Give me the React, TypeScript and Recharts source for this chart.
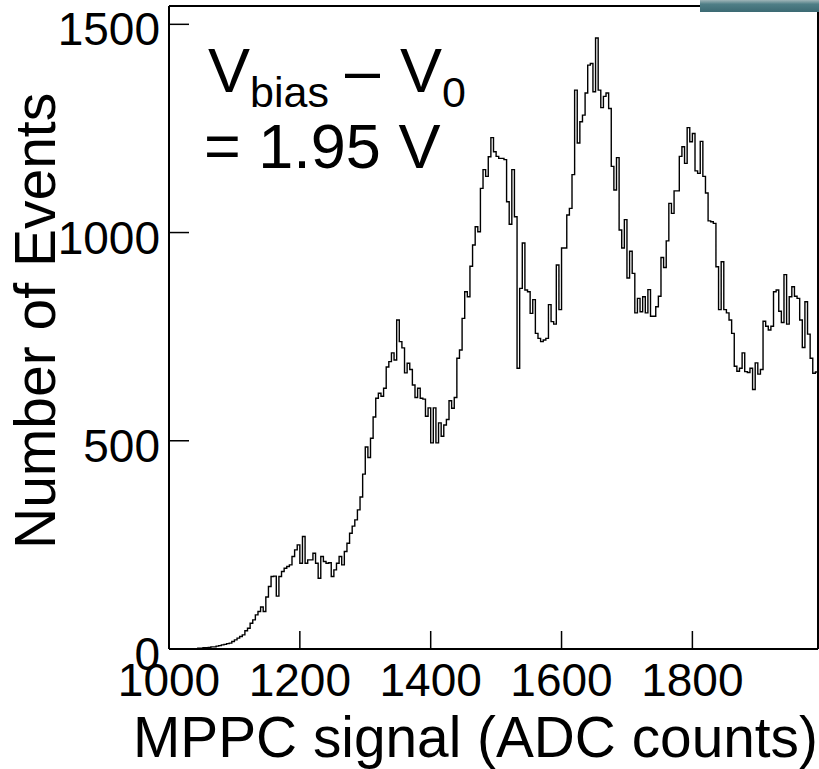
import { LineChart, Line, XAxis, YAxis, ReferenceLine } from "recharts";

const FONT = "'Liberation Sans', Arial, Helvetica, sans-serif";

// histogram binning (ADC counts)
const BIN_START = 1000;
const BIN_WIDTH = 4;
const X_MAX = 1992;
const Y_MAX = 1544;

const X_TICKS = [1000, 1200, 1400, 1600, 1800];
const Y_TICKS = [0, 500, 1000, 1500];

// events per 4-ADC bin
const COUNTS = [
  0, 0, 0, 0, 0, 0, 0, 0, 1, 1,
  1, 2, 2, 3, 3, 4, 5, 5, 7, 8,
  10, 11, 13, 14, 18, 22, 26, 30, 34, 44,
  50, 62, 70, 82, 90, 101, 90, 125, 150, 174,
  175, 127, 174, 186, 194, 198, 202, 222, 238, 250,
  206, 270, 206, 214, 214, 230, 206, 170, 222, 210,
  206, 207, 174, 190, 206, 222, 202, 234, 254, 278,
  295, 310, 334, 365, 420, 485, 460, 506, 557, 602,
  614, 607, 626, 677, 690, 711, 694, 790, 738, 723,
  663, 686, 671, 634, 604, 626, 602, 600, 559, 579,
  495, 579, 495, 543, 511, 538, 551, 596, 578, 604,
  698, 718, 794, 858, 846, 919, 970, 1014, 1002, 1106,
  1151, 1135, 1182, 1228, 1194, 1183, 1178, 1178, 1175, 1074,
  1020, 1151, 1038, 674, 866, 975, 862, 858, 806, 839,
  758, 746, 738, 742, 746, 827, 786, 780, 922, 815,
  963, 963, 1042, 1058, 1139, 1342, 1215, 1266, 1282, 1335,
  1402, 1406, 1338, 1467, 1342, 1300, 1327, 1335, 1298, 1159,
  1102, 1180, 1006, 963, 1031, 891, 955, 902, 807, 842,
  810, 846, 807, 863, 799, 799, 822, 847, 940, 916,
  980, 1070, 1046, 1100, 1100, 1183, 1206, 1166, 1252, 1218,
  1238, 1148, 1142, 1219, 1135, 1095, 1028, 1026, 1022, 918,
  815, 930, 815, 807, 790, 758, 679, 667, 674, 711,
  666, 664, 674, 623, 687, 660, 671, 787, 775, 766,
  775, 858, 862, 811, 784, 899, 780, 846, 870, 847,
  842, 790, 724, 834, 756, 698, 662, 665,
];

const data = COUNTS.map((n, i) => ({ adc: BIN_START + i * BIN_WIDTH, n }));
data.push({ adc: X_MAX, n: COUNTS[COUNTS.length - 1] });

// ROOT style: ticks point into the frame
function XTick({ x, y, payload }: any) {
  return (
    <g>
      <line x1={x} x2={x} y1={y} y2={y - 18} stroke="#000" strokeWidth={1.5} />
      <text x={x} y={y + 47} textAnchor="middle" fontSize={46} fontFamily={FONT} fill="#000">
        {payload.value}
      </text>
    </g>
  );
}

function YTick({ x, y, payload }: any) {
  return (
    <g>
      <line x1={x} x2={x + 20} y1={y} y2={y} stroke="#000" strokeWidth={1.5} />
      <text x={x - 9} y={y + 21} textAnchor="end" fontSize={46} fontFamily={FONT} fill="#000">
        {payload.value}
      </text>
    </g>
  );
}

export default function App() {
  return (
    <div style={{ position: "absolute", left: 0, top: 0, width: 819, height: 769, background: "#fff" }}>
      <LineChart width={819} height={769} data={data} margin={{ top: 6, right: 1, left: 0, bottom: 0 }}>
        <XAxis
          type="number"
          dataKey="adc"
          domain={[BIN_START, X_MAX]}
          ticks={X_TICKS}
          allowDataOverflow
          height={120}
          tickSize={0}
          tickMargin={0}
          tickLine={false}
          axisLine={{ stroke: "#000", strokeWidth: 2 }}
          tick={<XTick />}
          interval={0}
        />
        <YAxis
          type="number"
          domain={[0, Y_MAX]}
          ticks={Y_TICKS}
          allowDataOverflow
          width={169}
          tickSize={0}
          tickMargin={0}
          tickLine={false}
          axisLine={{ stroke: "#000", strokeWidth: 2 }}
          tick={<YTick />}
          interval={0}
        />
        <ReferenceLine y={Y_MAX} stroke="#000" strokeWidth={2} ifOverflow="visible" />
        <ReferenceLine x={X_MAX} stroke="#000" strokeWidth={2} ifOverflow="visible" />
        <Line
          isAnimationActive={false}
          type="stepAfter"
          dataKey="n"
          stroke="#000"
          strokeWidth={1.4}
          dot={false}
          activeDot={false}
        />
      </LineChart>

      <svg
        width={819}
        height={769}
        style={{ position: "absolute", left: 0, top: 0, pointerEvents: "none" }}
        fontFamily={FONT}
      >
        <defs>
          <linearGradient id="tealBar" x1="0" y1="0" x2="0" y2="1">
            <stop offset="0%" stopColor="#9fb5b8" />
            <stop offset="35%" stopColor="#4f7e86" />
            <stop offset="100%" stopColor="#3c6a73" />
          </linearGradient>
        </defs>
        <rect x={700} y={0} width={119} height={12} fill="url(#tealBar)" />

        {/* annotation */}
        <text x={208} y={92} fontSize={63} fill="#000">V</text>
        <text x={250} y={107} fontSize={43} fill="#000">bias</text>
        <text x={345} y={92} fontSize={63} fill="#000">–</text>
        <text x={400} y={92} fontSize={63} fill="#000">V</text>
        <text x={442} y={107} fontSize={43} fill="#000">0</text>
        <text x={204} y={168} fontSize={63} fill="#000">= 1.95 V</text>

        {/* axis titles */}
        <text x={133} y={757} fontSize={56.8} fill="#000">MPPC signal (ADC counts)</text>
        <text x={55} y={549} fontSize={57} fill="#000" transform="rotate(-90 55 549)">
          Number of Events
        </text>
      </svg>
    </div>
  );
}
